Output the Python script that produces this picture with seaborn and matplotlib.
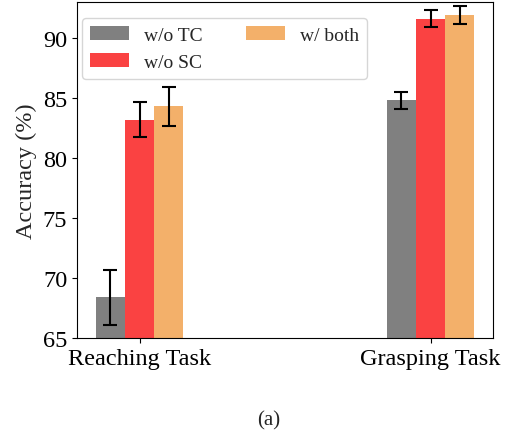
import matplotlib
matplotlib.use("Agg")
import matplotlib.pyplot as plt
import seaborn as sns
import pandas as pd

# Accuracy (%) per task and ablation variant, with standard deviations
tasks = ["Reaching Task", "Grasping Task"]
variants = ["w/o TC", "w/o SC", "w/ both"]
acc_wo_tc = [68.4, 84.8]
acc_wo_sc = [83.2, 91.6]
acc_both = [84.3, 91.9]
std_wo_tc = [2.3, 0.7]
std_wo_sc = [1.45, 0.7]
std_both = [1.6, 0.75]
colors = ["#808080", "#FA4242", "#F3B06A"]

sns.set_style("ticks")
plt.rcParams["font.family"] = ["Liberation Serif", "DejaVu Serif"]

means = [acc_wo_tc, acc_wo_sc, acc_both]
stds = [std_wo_tc, std_wo_sc, std_both]
df = pd.DataFrame({
    "task": [t for _ in variants for t in tasks],
    "variant": [v for v in variants for _ in tasks],
    "acc": [m for row in means for m in row],
})

fig = plt.figure(figsize=(5.10, 4.35), dpi=100)
ax = fig.add_axes([0.151, 0.2207, 0.816, 0.7723])

sns.barplot(data=df, x="task", y="acc", hue="variant", order=tasks,
            hue_order=variants, palette=colors, width=0.3, gap=0,
            saturation=1, errorbar=None, linewidth=0, edgecolor="none",
            ax=ax)

# error bars on top of each bar, one container per variant
for cont, err in zip(ax.containers, stds):
    xs = [p.get_x() + p.get_width() / 2 for p in cont.patches]
    ys = [p.get_height() for p in cont.patches]
    ax.errorbar(xs, ys, yerr=err, fmt="none", ecolor="black",
                elinewidth=1.5, capsize=5, capthick=1.5, zorder=5)

ax.set_xlim(-0.215, 1.215)
ax.set_ylim(65, 93)
ax.set_yticks([65, 70, 75, 80, 85, 90])
ax.set_xlabel("")
ax.set_ylabel("Accuracy (%)", fontsize=17.5)
ax.tick_params(axis="both", labelsize=17.5, colors="black")
for s in ax.spines.values():
    s.set_visible(True)
    s.set_color("black")
    s.set_linewidth(0.8)

ax.legend(loc="upper left", bbox_to_anchor=(0.012, 0.952), borderaxespad=0,
          ncol=2, fontsize=14, handlelength=2.0, columnspacing=2.2,
          frameon=True, title=None)

fig.text(0.526, 0.032, "(a)", ha="center", va="center", fontsize=15)

fig.savefig("out.png", dpi=100)
